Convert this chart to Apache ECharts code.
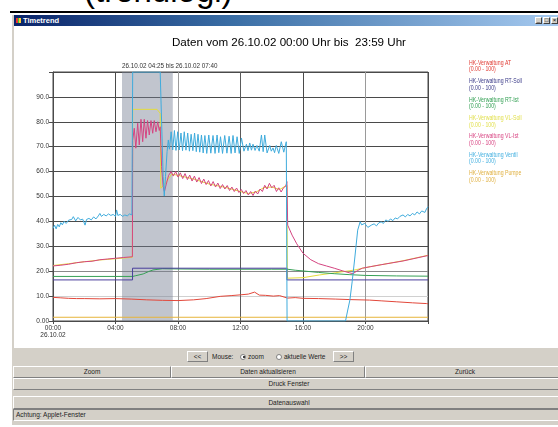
<!DOCTYPE html>
<html>
<head>
<meta charset="utf-8">
<title>Timetrend</title>
<script src="https://cdn.jsdelivr.net/npm/echarts@6.0.0/dist/echarts.min.js"></script>
<style>
  html, body { margin: 0; padding: 0; background: #fff; }
  body { width: 558px; height: 427px; position: relative; overflow: hidden; font-family: Arial, "Liberation Sans", sans-serif; }
  .abs { position: absolute; }
  .cap { left: 84px; top: -28px; font-size: 33px; line-height: 38px; color: #000; white-space: nowrap; }
  .rule { left: 10px; width: 548px; top: 11px; height: 2px; background: #000; }
  .frame { left: 12px; top: 15px; width: 560px; height: 410px; background: #d4d0c8; }
  .titlebar { left: 14px; top: 15px; width: 546px; height: 11px; background: linear-gradient(to right, #0a246a, #3a6ea5 40%, #a6caf0); }
  .titlebar span { position: absolute; left: 9px; top: 0; font-size: 7.5px; line-height: 11px; font-weight: bold; color: #fff; }
  .icon { left: 2px; top: 3px; width: 5px; height: 5px; background: linear-gradient(90deg, #e33 0 33%, #3c3 33% 66%, #fc3 66%); }
  .wbtn { top: 2px; width: 7px; height: 7px; background: #d4d0c8; border: 1px solid; border-color: #fff #404040 #404040 #fff; box-sizing: border-box; font-size: 6px; line-height: 5px; text-align: center; color: #000; }
  .content { left: 14px; top: 26px; width: 546px; height: 322px; background: #fff; }
  .btn { background: #d4d0c8; border: 1px solid; border-color: #fff #808080 #808080 #fff; box-sizing: border-box; font-size: 6.5px; color: #222; text-align: center; white-space: nowrap; overflow: hidden; }
  .lbl { font-size: 6.5px; color: #222; white-space: nowrap; }
  .radio { width: 6px; height: 6px; border-radius: 50%; background: #fff; border: 1px solid #808080; box-sizing: border-box; }
  .radio.on::after { content: ""; position: absolute; left: 1.5px; top: 1.5px; width: 2px; height: 2px; border-radius: 50%; background: #000; }
  .status { background: #d4d0c8; border: 1px solid; border-color: #808080 #fff #fff #808080; box-sizing: border-box; font-size: 6.5px; color: #222; padding-left: 2px; white-space: nowrap; }
  #chart { position: absolute; left: 0; top: 0; width: 558px; height: 427px; }
</style>
</head>
<body>
<div class="abs cap">(trendlogi)</div>
<div class="abs rule"></div>
<div class="abs frame"></div>
<div class="abs titlebar"><div class="abs icon"></div><span>Timetrend</span>
  <div class="abs wbtn" style="left:521px">_</div>
  <div class="abs wbtn" style="left:529px">□</div>
  <div class="abs wbtn" style="left:537px">×</div>
</div>
<div class="abs content"></div>

<div class="abs btn" style="left:187px; top:351px; width:21px; height:11px; line-height:9px;">&lt;&lt;</div>
<div class="abs lbl" style="left:212px; top:352px; line-height:9px;">Mouse:</div>
<div class="abs radio on" style="left:240px; top:353.5px;"></div>
<div class="abs lbl" style="left:248px; top:352px; line-height:9px;">zoom</div>
<div class="abs radio" style="left:276px; top:353.5px;"></div>
<div class="abs lbl" style="left:284px; top:352px; line-height:9px;">aktuelle Werte</div>
<div class="abs btn" style="left:333px; top:351px; width:21px; height:11px; line-height:9px;">&gt;&gt;</div>

<div class="abs btn" style="left:13px; top:366px; width:158px; height:12px; line-height:10px;">Zoom</div>
<div class="abs btn" style="left:171px; top:366px; width:194px; height:12px; line-height:10px;">Daten aktualisieren</div>
<div class="abs btn" style="left:365px; top:366px; width:200px; height:12px; line-height:10px;">Zurück</div>
<div class="abs btn" style="left:13px; top:378px; width:552px; height:12px; line-height:10px;">Druck Fenster</div>
<div class="abs btn" style="left:13px; top:396px; width:552px; height:13px; line-height:11px;">Datenauswahl</div>
<div class="abs status" style="left:13px; top:409px; width:552px; height:12px; line-height:10px;">Achtung: Applet-Fenster</div>

<div id="chart"></div>
<script>
  // Beschriftungen
  const titleText = 'Daten vom 26.10.02 00:00 Uhr bis  23:59 Uhr';
  const dateText = '26.10.02';
  const zoomText = '26.10.02 04:25 bis 26.10.02 07:40';
  const zoomRange = [4.4167, 7.6667];
  const rangeText = '(0.00 - 100)';
  const seriesNames = ['HK-Verwaltung AT', 'HK-Verwaltung RT-Soll', 'HK-Verwaltung RT-Ist', 'HK-Verwaltung VL-Soll', 'HK-Verwaltung VL-Ist', 'HK-Verwaltung Ventil', 'HK-Verwaltung Pumpe'];
  const lineColors = ['#e2473a', '#4a3f9c', '#35a055', '#e4dc3c', '#d44480', '#3fabdc', '#e6b43a'];
  const legendColors = ['#e03a32', '#3a3a88', '#2f9e50', '#e2e050', '#d84482', '#44b0e0', '#e0b040'];

  // Messwerte [Stunde, Wert]
  const atData = [[0,9.5],[0.5,9.3],[1,9.1],[1.5,9.0],[2,9.0],[3,8.9],[4,9.0],[5,8.8],[6,8.5],[7,8.3],[8,8.2],[9,8.5],[9.8,9.0],[10.7,9.9],[11.4,10.2],[12,10.5],[12.5,10.8],[12.9,11.6],[13.2,10.4],[13.6,10.3],[14.1,10.0],[14.5,10.2],[15,9.2],[15.5,9.4],[16,9.1],[17,9.0],[18.1,8.8],[19,8.6],[20.25,8.4],[21,8.1],[22,7.7],[23,7.3],[23.9,7.0],[24,6.9]];

  const rtSollData = [[0,16.5],[5.09,16.5],[5.09,21.2],[14.97,21.2],[14.97,16.5],[24,16.5]];

  const rtIstData = [[0,17.9],[5.1,17.9],[5.3,18.2],[5.77,18.9],[6.1,19.8],[6.4,20.5],[7,21.0],[8,20.9],[10,20.8],[12,20.8],[14,20.8],[15,20.8],[15.5,20.4],[16,20.1],[17,19.5],[18,19.0],[19,18.6],[20,18.3],[22,18.1],[24,18.0]];

  const vlSollData = [[0,22.3],[1,23.0],[2,23.8],[3,24.5],[4,25.0],[5.08,25.6],[5.1,85],[6.66,85],[6.86,83.4],[6.9,53.3],[7.2,55.5],[7.6,59],[8,58.5],[9,57],[10,55],[11,53.7],[12,52],[12.5,51.2],[13,51.8],[13.5,53.6],[14,53.8],[14.5,52.8],[14.97,54.5],[15.0,17.2],[16,17.4],[17.06,18.5],[18.1,19.4],[19,20.2],[19.4,20.6],[19.8,21.2],[20.3,21.8],[21,22.6],[22.4,24.2],[24,26.4]];

  const vlIstData = [[0,22.1],[0.5,22.4],[1,22.8],[1.5,23.4],[2,23.8],[2.5,24.0],[3,24.6],[3.5,24.9],[4,25.2],[4.5,25.5],[5.08,25.8],
    [5.1,72.5],[5.2,77.4],[5.3,69.4],[5.42,79.4],[5.52,70.7],[5.63,81],[5.74,72],[5.84,81],[5.95,73.4],[6.05,80.5],[6.16,74.7],[6.27,80.5],[6.38,75.4],[6.48,80.5],[6.59,76],[6.7,80],[6.8,76.5],[6.86,78],
    [6.95,62],[7.05,54],[7.13,51.9],[7.25,55],[7.4,58.5],[7.56,60],
    [7.7,58.2],[7.85,60.0],[8.0,57.8],[8.15,59.5],[8.3,57.2],[8.45,59.2],[8.6,56.8],[8.75,58.6],[8.9,56.2],[9.05,58.2],[9.2,55.8],[9.35,57.6],[9.5,55.2],[9.65,57.0],[9.8,54.8],[9.95,56.4],[10.1,54.2],[10.25,56.0],[10.4,53.8],[10.55,55.4],[10.7,53.2],[10.85,54.8],[11.0,53.0],[11.15,54.4],[11.3,52.4],[11.45,53.8],[11.6,52.0],[11.75,53.4],[11.9,51.6],[12.05,52.8],[12.2,51.2],[12.35,52.4],[12.5,50.6],[12.65,52.0],[12.8,50.4],[12.95,52.2],[13.1,51.0],[13.25,53.0],[13.4,52.0],[13.55,54.5],[13.7,53.0],[13.85,55.3],[14.0,53.5],[14.15,54.5],[14.3,52.0],[14.45,53.5],[14.6,51.8],[14.75,53.5],[14.9,54.2],[14.97,56],
    [15.02,38.5],[15.3,34.5],[15.6,31.0],[16,27.2],[16.5,24.6],[17,23.0],[17.5,22.1],[18,21.2],[18.5,20.2],[19,19.3],[19.2,19.0],[19.5,20.3],[19.8,21.2],[20.3,21.8],[21,22.6],[22.4,24.1],[24,26.3]];

  const ventilData = [[0,37.2],[0.1,38.5],[0.2,37.0],[0.3,38.8],[0.4,37.8],[0.5,39.5],[0.6,38.6],[0.7,40.0],[0.85,39.2],[1.0,40.5],[1.1,39.8],[1.2,40.8],[1.3,41.9],[1.45,40.2],[1.6,41.6],[1.75,40.6],[1.9,40.9],[2.05,38.5],[2.15,40.8],[2.3,41.2],[2.45,40.6],[2.6,41.8],[2.75,41.0],[2.9,42.2],[3.0,43.2],[3.1,42.0],[3.25,42.8],[3.4,42.2],[3.55,43.0],[3.7,42.4],[3.85,42.8],[4.0,42.0],[4.07,44.6],[4.15,42.4],[4.3,42.8],[4.45,42.0],[4.6,42.6],[4.75,42.2],[4.9,43.0],[5.05,42.6],[5.09,43.0],
    [5.1,100],[6.86,100],[6.95,80],[7.05,58],[7.12,50.2],[7.2,58],[7.3,68],[7.38,72.7],[7.45,69],
    [7.56,76],[7.66,68.7],[7.77,76.5],[7.87,68.5],[7.98,76],[8.08,68.7],[8.19,75.5],[8.29,68.4],[8.40,76],[8.51,68.6],[8.62,75.5],[8.73,68.2],[8.84,75],[8.95,68.4],[9.06,75.5],[9.17,68],[9.28,75],[9.39,67.8],[9.50,74.7],[9.61,67.5],[9.72,74.5],[9.84,67.3],[9.97,74.7],[10.1,67.4],[10.24,74.5],[10.37,67.3],[10.50,74.7],[10.61,67.6],[10.72,74],[10.85,67.3],[10.99,74.5],[11.13,67.4],[11.27,74.2],[11.4,67.3],[11.52,74.5],[11.65,67.5],[11.78,74],[11.92,67.3],[12.06,73.5],[12.22,68.2],[12.38,71],[12.48,68.4],[12.59,71.5],[12.7,68.6],[12.8,71],[12.93,68.5],[13.05,70.5],[13.2,68.2],[13.34,74.7],[13.45,68],[13.55,74.7],[13.7,67.5],[13.87,70.5],[13.97,68.2],[14.08,69.5],[14.18,67.6],[14.29,70.5],[14.45,67.3],[14.61,72],[14.77,67.8],[14.93,72],[14.97,71.5],
    [14.98,0],[18.72,0],[18.85,4],[19.0,8.4],[19.15,16],[19.3,24.5],[19.5,36.5],[19.66,39.9],[19.75,38.6],[19.83,37.9],[19.95,39.2],[20.05,38.4],[20.15,37.6],[20.26,37.3],[20.4,38.6],[20.55,39.0],[20.7,38.2],[20.85,39.4],[21.0,39.8],[21.15,39.2],[21.3,40.6],[21.45,40.0],[21.6,41.0],[21.75,40.3],[21.9,41.4],[22.05,41.0],[22.2,42.0],[22.4,42.6],[22.55,41.8],[22.7,42.8],[22.85,42.2],[23.0,43.2],[23.15,42.6],[23.3,43.8],[23.45,43.0],[23.6,44.2],[23.7,44.6],[23.8,43.6],[23.9,45.0],[24.0,45.9]];

  const pumpeData = [[0,1.5],[24,1.5]];

  const allData = [atData, rtSollData, rtIstData, vlSollData, vlIstData, ventilData, pumpeData];
  const drawZ = [3, 5, 4, 2, 6, 7, 1];

  function pad(n) { return (n < 10 ? '0' : '') + n; }

  const chart = echarts.init(document.getElementById('chart'), null, { renderer: 'canvas' });

  const series = allData.map(function (d, i) {
    const s = {
      name: seriesNames[i],
      type: 'line',
      data: d,
      showSymbol: false,
      z: drawZ[i],
      lineStyle: { color: lineColors[i], width: 1 },
      itemStyle: { color: lineColors[i] },
      animation: false
    };
    if (i === 6) {
      s.markArea = {
        silent: true,
        itemStyle: { color: 'rgba(118,126,146,0.45)' },
        label: { show: true, position: [0, -9], color: '#333', fontSize: 6.3, fontFamily: 'Arial', formatter: zoomText },
        data: [[{ xAxis: zoomRange[0] }, { xAxis: zoomRange[1] }]]
      };
    }
    return s;
  });

  const legendEls = [];
  seriesNames.forEach(function (n, i) {
    legendEls.push({
      type: 'text', x: 469, y: 62.7 + i * 18.4, scaleX: 0.7,
      style: { text: n, fill: legendColors[i], font: '7.4px Arial', verticalAlign: 'middle' }
    });
    legendEls.push({
      type: 'text', x: 469, y: 69.4 + i * 18.4, scaleX: 0.7,
      style: { text: rangeText, fill: legendColors[i], font: '7.4px Arial', verticalAlign: 'middle' }
    });
  });

  chart.setOption({
    animation: false,
    backgroundColor: 'transparent',
    grid: { left: 53, top: 72, right: 130, bottom: 106, show: true, borderColor: '#4a4a4a', borderWidth: 1, backgroundColor: 'transparent' },
    xAxis: {
      type: 'value', min: 0, max: 24, interval: 4,
      axisLine: { lineStyle: { color: '#4a4a4a' } },
      axisTick: { show: true, length: 3, lineStyle: { color: '#4a4a4a' } },
      axisLabel: {
        color: '#333', fontSize: 6.5, fontFamily: 'Arial', margin: 4, lineHeight: 7,
        formatter: function (v) {
          if (v === 24) return '';
          return v === 0 ? pad(v) + ':00\n' + dateText : pad(v) + ':00';
        }
      },
      splitLine: { show: true, lineStyle: { color: ['#4a4a4a', '#4a4a4a', '#9a9a9a', '#5a5a5a', '#4a4a4a', '#9a9a9a', '#4a4a4a'], width: 1 } }
    },
    yAxis: {
      type: 'value', min: 0, max: 100, interval: 10,
      axisLine: { show: true, lineStyle: { color: '#4a4a4a' } },
      axisTick: { show: true, length: 4, lineStyle: { color: '#4a4a4a' } },
      axisLabel: {
        color: '#333', fontSize: 6.5, fontFamily: 'Arial', margin: 4,
        formatter: function (v) { return v === 0 ? '0.00' : (v === 100 ? '' : v.toFixed(1)); }
      },
      splitLine: { show: true, lineStyle: { color: ['#4a4a4a', '#d0d0d0', '#8a8a8a', '#4a4a4a', '#4a4a4a', '#4a4a4a', '#4a4a4a', '#4a4a4a', '#4a4a4a', '#4a4a4a', '#4a4a4a'], width: 1 } }
    },
    graphic: [
      { type: 'text', x: 172, y: 43, style: { text: titleText, fill: '#000', font: '11.6px Arial', verticalAlign: 'middle' } }
    ].concat(legendEls),
    series: series
  });
</script>
</body>
</html>
